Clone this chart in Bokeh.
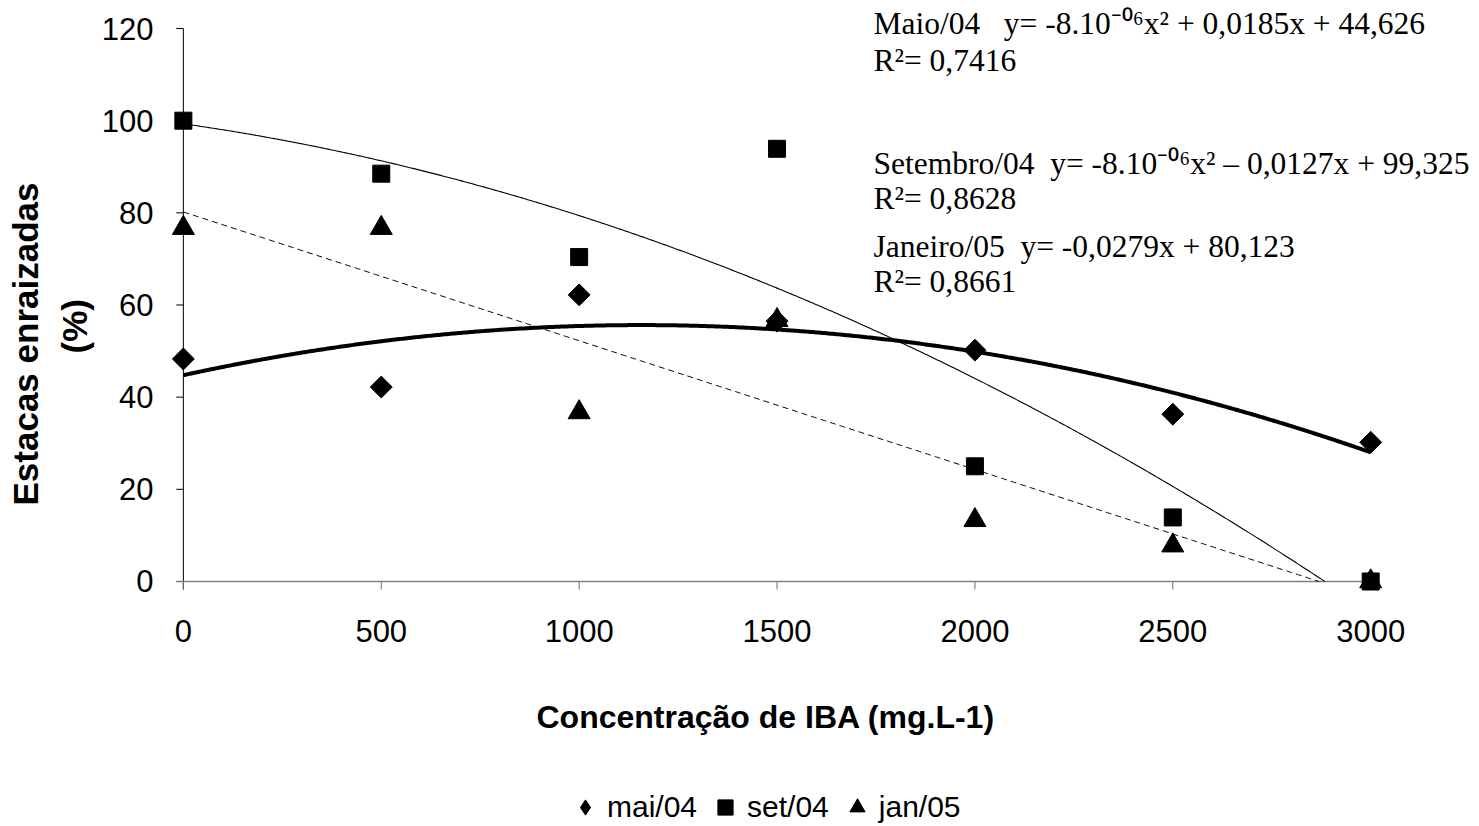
import numpy as np
from bokeh.plotting import figure
from bokeh.layouts import column
from bokeh.models import Range1d, Label, Legend, LegendItem, FixedTicker, ColumnDataSource, Title
from bokeh.embed import file_html
from bokeh.resources import INLINE

# ---- data ----
conc = [0, 500, 1000, 1500, 2000, 2500, 3000]
mai04 = [48.3, 42.2, 62.2, 56.5, 50.2, 36.3, 30.2]
set04 = [100.0, 88.5, 70.4, 93.9, 25.0, 13.9, 0.0]
jan05 = [76.7, 76.7, 36.7, 56.7, 13.3, 7.8, 0.0]
series_labels = ["mai/04", "set/04", "jan/05"]
x_ticks = [0, 500, 1000, 1500, 2000, 2500, 3000]
y_ticks = [0, 20, 40, 60, 80, 100, 120]
x_title = "Concentração de IBA (mg.L-1)"
y_title = ["Estacas enraizadas", "(%)"]
NB = "\u00a0"
eq_lines = [
    "Maio/04" + NB * 3 + "y= -8.10\u207b\u2070\u2076x\u00b2 + 0,0185x + 44,626",
    "R\u00b2= 0,7416",
    "Setembro/04" + NB * 2 + "y= -8.10\u207b\u2070\u2076x\u00b2 \u2013 0,0127x + 99,325",
    "R\u00b2= 0,8628",
    "Janeiro/05" + NB * 2 + "y= -0,0279x + 80,123",
    "R\u00b2= 0,8661",
]

SANS = "Liberation Sans"
SERIF = "Liberation Serif"

p = figure(width=1475, height=788,
           x_range=Range1d(-30, 3264.8), y_range=Range1d(-2.39, 126.08),
           output_backend="svg", toolbar_location=None,
           min_border_left=170, min_border_right=0,
           min_border_top=0, min_border_bottom=196)
p.outline_line_color = None
p.grid.visible = False
p.background_fill_color = "white"
p.border_fill_color = "white"

for ax in (p.xaxis[0], p.yaxis[0]):
    ax.axis_line_color = None
    ax.major_tick_line_color = None
    ax.minor_tick_line_color = None
    ax.major_label_text_font = SANS
    ax.major_label_text_font_size = "31px"
    ax.major_label_text_color = "black"
p.xaxis.ticker = FixedTicker(ticks=x_ticks)
p.yaxis.ticker = FixedTicker(ticks=y_ticks)
p.xaxis.major_label_standoff = 21
p.yaxis.major_label_standoff = 12

# ---- axis titles ----
p.add_layout(Title(text=x_title, align="left", offset=365, standoff=105,
                   text_font=SANS, text_font_style="bold", text_font_size="32px",
                   text_color="black"), "below")
p.add_layout(Title(text=y_title[1], align="left", offset=239, standoff=10,
                   text_font=SANS, text_font_style="bold", text_font_size="35px",
                   text_color="black"), "left")
p.add_layout(Title(text=y_title[0], align="left", offset=87, standoff=6,
                   text_font=SANS, text_font_style="bold", text_font_size="35px",
                   text_color="black"), "left")

# ---- axis lines and tick marks at data zero ----
ytick_len = 18.0   # in x data units (~7px)
xtick_len = 1.75   # in y data units (~8px)
p.segment(x0=[x_ticks[0]], y0=[y_ticks[0] - xtick_len], x1=[x_ticks[0]], y1=[y_ticks[-1]],
          line_color="black", line_width=1)
p.segment(x0=[x_ticks[0]] * len(y_ticks), y0=y_ticks,
          x1=[x_ticks[0] - ytick_len] * len(y_ticks), y1=y_ticks,
          line_color="black", line_width=1)
p.segment(x0=[x_ticks[0] - ytick_len], y0=[y_ticks[0]], x1=[x_ticks[-1]], y1=[y_ticks[0]],
          line_color="#808080", line_width=1.5)
p.segment(x0=x_ticks, y0=[y_ticks[0]] * len(x_ticks),
          x1=x_ticks, y1=[y_ticks[0] - xtick_len] * len(x_ticks),
          line_color="#707070", line_width=1)

# ---- trend lines fitted from data ----
xs = np.linspace(conc[0], conc[-1], 601)

def trend(yvals, deg):
    coef = np.polyfit(conc, yvals, deg)
    ys = np.polyval(coef, xs)
    keep = ys >= 0
    tx, ty = list(xs[keep]), list(ys[keep])
    if not keep.all():
        roots = [r.real for r in np.roots(coef) if abs(r.imag) < 1e-9 and conc[0] <= r.real <= conc[-1]]
        if roots:
            tx.append(min(roots)); ty.append(0.0)
    return tx, ty

tx, ty = trend(mai04, 2)
p.line(tx, ty, line_color="black", line_width=4)
tx, ty = trend(set04, 2)
p.line(tx, ty, line_color="black", line_width=1.1)
tx, ty = trend(jan05, 1)
p.line(tx, ty, line_color="black", line_width=1, line_dash="6 4")

# ---- markers ----
src = ColumnDataSource(dict(x=conc, mai=mai04, set=set04, jan=jan05))
mk = dict(fill_color="black", line_color="black")
p.scatter("x", "mai", source=src, marker="square", angle=np.pi / 4, size=15.5, **mk)
p.scatter("x", "jan", source=src, marker="triangle", size=22, **mk)
p.scatter("x", "set", source=src, marker="square", size=17, **mk)

# ---- equation annotations ----
eq_y = [569, 532, 429, 394, 346, 311]
for txt, yy in zip(eq_lines, eq_y):
    p.add_layout(Label(x=702, y=yy, x_units="screen", y_units="screen", text=txt,
                       text_align="left", text_baseline="alphabetic",
                       text_font=SERIF, text_font_size="31.5px", text_color="black"))

# ---- legend strip below the chart ----
p2 = figure(width=1475, height=38, x_range=Range1d(-30, 3264.8), y_range=Range1d(-2.39, 126.08),
            x_axis_type=None, y_axis_type=None, output_backend="svg",
            toolbar_location=None, min_border=0)
p2.outline_line_color = None
p2.grid.visible = False
p2.background_fill_color = "white"
p2.border_fill_color = "white"
g_mai = p2.scatter("x", "mai", source=src, marker="diamond", size=22, visible=False, **mk)
g_set = p2.scatter("x", "set", source=src, marker="square", size=17, visible=False, **mk)
g_jan = p2.scatter("x", "jan", source=src, marker="triangle", size=22, visible=False, **mk)

legend = Legend(items=[LegendItem(label=series_labels[0], renderers=[g_mai]),
                       LegendItem(label=series_labels[1], renderers=[g_set]),
                       LegendItem(label=series_labels[2], renderers=[g_jan])],
                orientation="horizontal", location=(392, 0),
                border_line_color=None, background_fill_alpha=0,
                padding=0, margin=0, spacing=6,
                glyph_width=44, glyph_height=38, label_standoff=0,
                label_text_font=SANS, label_text_font_size="30px",
                label_text_color="black")
p2.add_layout(legend)

layout = column(p, p2, spacing=0)
open("out.html", "w").write(file_html(layout, INLINE))
